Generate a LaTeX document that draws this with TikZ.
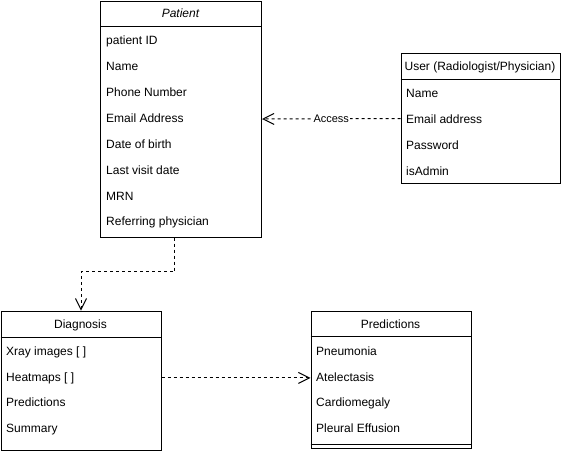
\documentclass[tikz,border=0pt]{standalone}
\usepackage{fontspec}
\setmainfont{Liberation Sans}
\usetikzlibrary{arrows.meta}
\begin{document}
\begin{tikzpicture}[x=1pt,y=-1pt,
  box/.style={draw,line width=1pt,inner sep=0pt,anchor=north west},
  row/.style={anchor=base west,inner sep=0pt,font=\fontsize{12}{14}\selectfont},
  title/.style={anchor=base,inner sep=0pt,font=\fontsize{12}{14}\selectfont},
  dep/.style={line width=1pt,dash pattern=on 3pt off 3pt,-{Straight Barb[length=11pt,width=11pt]}},
  lbl/.style={fill=white,inner sep=1pt,font=\fontsize{11}{13}\selectfont}
]
\useasboundingbox (0,0) rectangle (561,451);
% Patient
\node[box,minimum width=161pt,minimum height=236pt] (patient) at (100,0.5) {};
\draw[line width=1pt] (100,26) -- (261,26);
\node[title,font=\fontsize{12}{14}\selectfont\itshape] (pt) at (180.5,17.5) {Patient};
\node[row] (p1) at (106,44.5) {patient ID};
\node[row] (p2) at (106,70.5) {Name};
\node[row] (p3) at (106,96) {Phone Number};
\node[row] (p4) at (106,122) {Email Address};
\node[row] (p5) at (106,148) {Date of birth};
\node[row] (p6) at (106,174) {Last visit date};
\node[row] (p7) at (106,200) {MRN};
\node[row] (p8) at (106,225.5) {Referring physician};
% User
\node[box,minimum width=159pt,minimum height=130pt] (user) at (400.5,53) {};
\draw[line width=1pt] (400.5,79) -- (559.5,79);
\node[title] (ut) at (480,70.5) {User (Radiologist/Physician)};
\node[row] (u1) at (406,97.5) {Name};
\node[row] (u2) at (406,123) {Email address};
\node[row] (u3) at (406,149) {Password};
\node[row] (u4) at (406,175) {isAdmin};
% Diagnosis
\node[box,minimum width=160pt,minimum height=139pt] (diag) at (0.5,310.5) {};
\draw[line width=1pt] (0.5,337) -- (160.5,337);
\node[title] (dt) at (80.5,328.5) {Diagnosis};
\node[row] (d1) at (6,355.5) {Xray images [ ]};
\node[row] (d2) at (6,381) {Heatmaps [ ]};
\node[row] (d3) at (6,406) {Predictions};
\node[row] (d4) at (6,432) {Summary};
% Predictions
\node[box,minimum width=160pt,minimum height=137pt] (pred) at (310.5,310.5) {};
\draw[line width=1pt] (310.5,336) -- (470.5,336);
\draw[line width=1pt] (310.5,444) -- (470.5,444);
\node[title] (prt) at (390.5,328.5) {Predictions};
\node[row] (r1) at (316,355.5) {Pneumonia};
\node[row] (r2) at (316,381) {Atelectasis};
\node[row] (r3) at (316,406) {Cardiomegaly};
\node[row] (r4) at (316,432) {Pleural Effusion};
% Connectors
\draw[dep] (user.west) -- node[lbl,pos=0.5] (acc) {Access} (patient.east);
\draw[dep] ([xshift=-6.5pt]patient.south) -- ++(0,34) -| (diag.north);
\draw[dep] (diag.east |- d2.west) -- (pred.west |- d2.west);
\end{tikzpicture}
\end{document}
